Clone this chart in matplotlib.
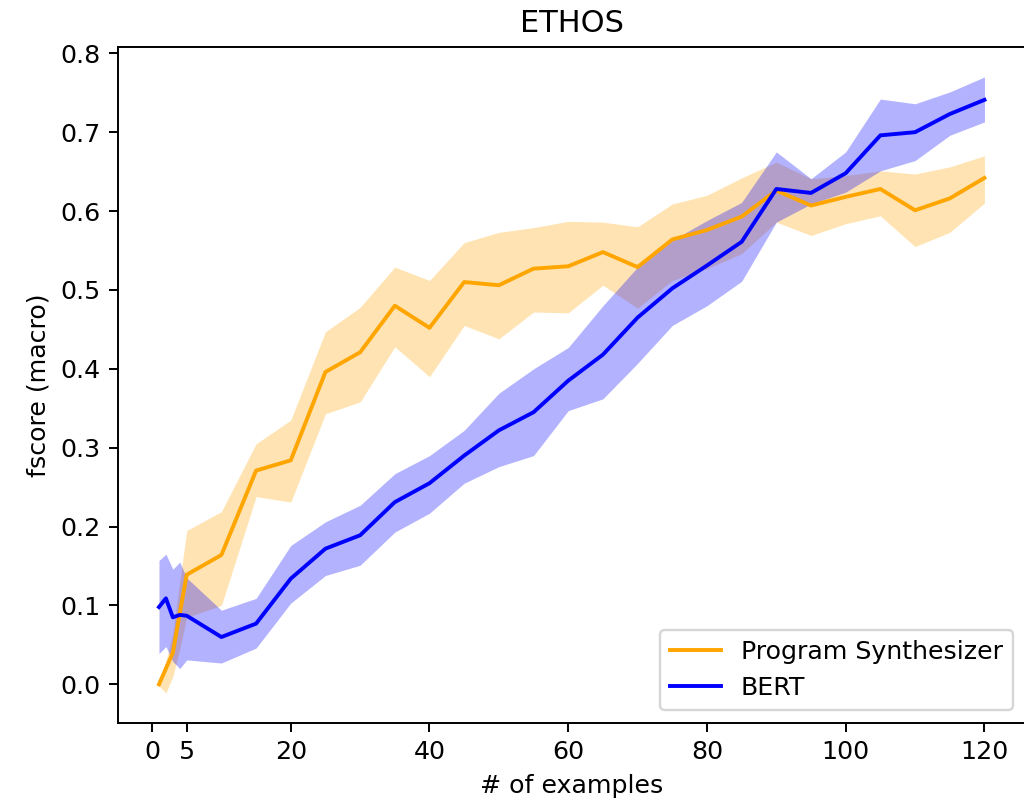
import matplotlib
matplotlib.use("Agg")
import matplotlib.pyplot as plt
import numpy as np

x = [1, 2, 3, 4, 5, 10, 15, 20, 25, 30, 35, 40, 45, 50, 55, 60, 65, 70, 75, 80,
     85, 90, 95, 100, 105, 110, 115, 120]

prog_mean = [0.000, 0.020, 0.040, 0.090, 0.139, 0.164, 0.271, 0.284, 0.396, 0.421,
             0.480, 0.452, 0.510, 0.506, 0.527, 0.530, 0.548, 0.529, 0.564, 0.576,
             0.593, 0.626, 0.607, 0.618, 0.628, 0.601, 0.616, 0.642]
prog_low = [-0.002, -0.011, 0.010, 0.045, 0.085, 0.100, 0.238, 0.231, 0.343, 0.358,
            0.428, 0.390, 0.455, 0.438, 0.472, 0.471, 0.506, 0.477, 0.512, 0.527,
            0.546, 0.586, 0.569, 0.584, 0.594, 0.555, 0.573, 0.610]
prog_high = [0.004, 0.030, 0.065, 0.130, 0.195, 0.219, 0.305, 0.335, 0.447, 0.478,
             0.529, 0.512, 0.560, 0.573, 0.579, 0.587, 0.586, 0.580, 0.609, 0.620,
             0.642, 0.662, 0.641, 0.645, 0.651, 0.647, 0.656, 0.670]

bert_mean = [0.098, 0.109, 0.085, 0.088, 0.087, 0.060, 0.077, 0.134, 0.172, 0.189,
             0.231, 0.255, 0.290, 0.322, 0.345, 0.385, 0.418, 0.465, 0.502, 0.531,
             0.561, 0.628, 0.623, 0.648, 0.696, 0.700, 0.723, 0.741]
bert_low = [0.039, 0.048, 0.029, 0.020, 0.031, 0.027, 0.046, 0.103, 0.138, 0.151,
            0.193, 0.217, 0.255, 0.276, 0.290, 0.347, 0.362, 0.407, 0.455, 0.480,
            0.511, 0.586, 0.609, 0.624, 0.651, 0.664, 0.696, 0.713]
bert_high = [0.157, 0.165, 0.146, 0.155, 0.135, 0.094, 0.109, 0.176, 0.206, 0.227,
             0.267, 0.290, 0.322, 0.369, 0.400, 0.427, 0.480, 0.529, 0.563, 0.588,
             0.611, 0.675, 0.641, 0.675, 0.742, 0.736, 0.751, 0.770]

xticks = [0, 5, 20, 40, 60, 80, 100, 120]

plt.rcParams["font.size"] = 10.4

dpi = 175
fig = plt.figure(figsize=(1024 / dpi, 802 / dpi), dpi=dpi)
ax = fig.add_axes([117.7 / 1024, 1 - 723 / 802, 908 / 1024, (723 - 47) / 802])

ax.plot(x, prog_mean, color="orange", linewidth=1.6, label="Program Synthesizer")
ax.fill_between(x, prog_low, prog_high, color="orange", alpha=0.3, linewidth=0)
ax.plot(x, bert_mean, color="blue", linewidth=1.6, label="BERT")
ax.fill_between(x, bert_low, bert_high, color="blue", alpha=0.3, linewidth=0)

ax.set_xticks(xticks)
ax.set_xlim(-4.95, 125.95)
ax.set_ylim(-0.049, 0.808)
ax.set_title("ETHOS", fontsize=12.5)
ax.set_xlabel("# of examples")
ax.set_ylabel("fscore (macro)")
ax.legend(loc="lower right")

fig.savefig("out.png", dpi=dpi)
